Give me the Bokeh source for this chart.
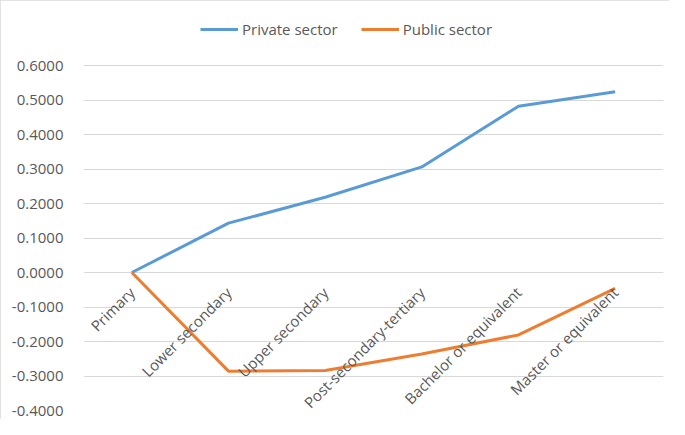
import math
from bokeh.plotting import figure
from bokeh.models import Range1d, FixedTicker, NumeralTickFormatter, Legend, LegendItem, ColumnDataSource
from bokeh.core.properties import value
from bokeh.embed import file_html
from bokeh.resources import INLINE

categories = ["Primary", "Lower secondary", "Upper secondary", "Post-secondary-tertiary",
              "Bachelor or equivalent", "Master or equivalent"]
private_sector = [0.0, 0.143, 0.218, 0.306, 0.482, 0.524]
public_sector = [0.0, -0.286, -0.284, -0.236, -0.181, -0.046]
y_ticks = [-0.4, -0.3, -0.2, -0.1, 0.0, 0.1, 0.2, 0.3, 0.4, 0.5, 0.6]

FONT = "Open Sans"
TXT = "#595959"

xs = list(range(len(categories)))

# frame extends above the top gridline to hold the legend (345 px per 1.0 unit)
p = figure(width=669, height=419, output_backend="svg", toolbar_location=None,
           x_range=Range1d(-0.5, len(categories) - 0.5), y_range=Range1d(-0.4, 0.6 + 55 / 345),
           min_border_left=83, min_border_right=6, min_border_top=10, min_border_bottom=9)
p.styles = {"outline": "1px solid #d9d9d9", "outline-offset": "-1px"}
p.outline_line_color = None
p.background_fill_color = "white"
p.border_fill_color = "white"

p.xaxis.visible = False
p.xgrid.visible = False
p.ygrid.ticker = FixedTicker(ticks=y_ticks)
p.ygrid.grid_line_color = "#d9d9d9"
p.ygrid.grid_line_width = 1

ya = p.yaxis[0]
ya.ticker = FixedTicker(ticks=y_ticks)
ya.formatter = NumeralTickFormatter(format="0.0000")
ya.axis_line_color = None
ya.major_tick_line_color = None
ya.minor_tick_line_color = None
ya.major_label_standoff = 14
ya.major_label_text_font = FONT
ya.major_label_text_font_size = "15px"
ya.major_label_text_color = TXT

r1 = p.line(xs, private_sector, line_color="#5B9BD5", line_width=3)
r2 = p.line(xs, public_sector, line_color="#ED7D31", line_width=3)

src = ColumnDataSource(dict(x=xs, y=[0.0] * len(xs), t=categories))
p.text(x="x", y="y", text="t", source=src, angle=math.pi / 4,
       text_align="right", text_baseline="top", x_offset=-7, y_offset=10,
       text_font=value(FONT), text_font_size="15px", text_color=TXT)

legend = Legend(items=[LegendItem(label="Private sector", renderers=[r1]),
                       LegendItem(label="Public sector", renderers=[r2])],
                orientation="horizontal", location=(117, 371),
                label_text_font=FONT, label_text_font_size="15px", label_text_color=TXT,
                glyph_width=38, label_standoff=4, spacing=23, padding=0, margin=0,
                border_line_color=None, background_fill_alpha=0)
p.add_layout(legend)

open("out.html", "w").write(file_html(p, INLINE))
